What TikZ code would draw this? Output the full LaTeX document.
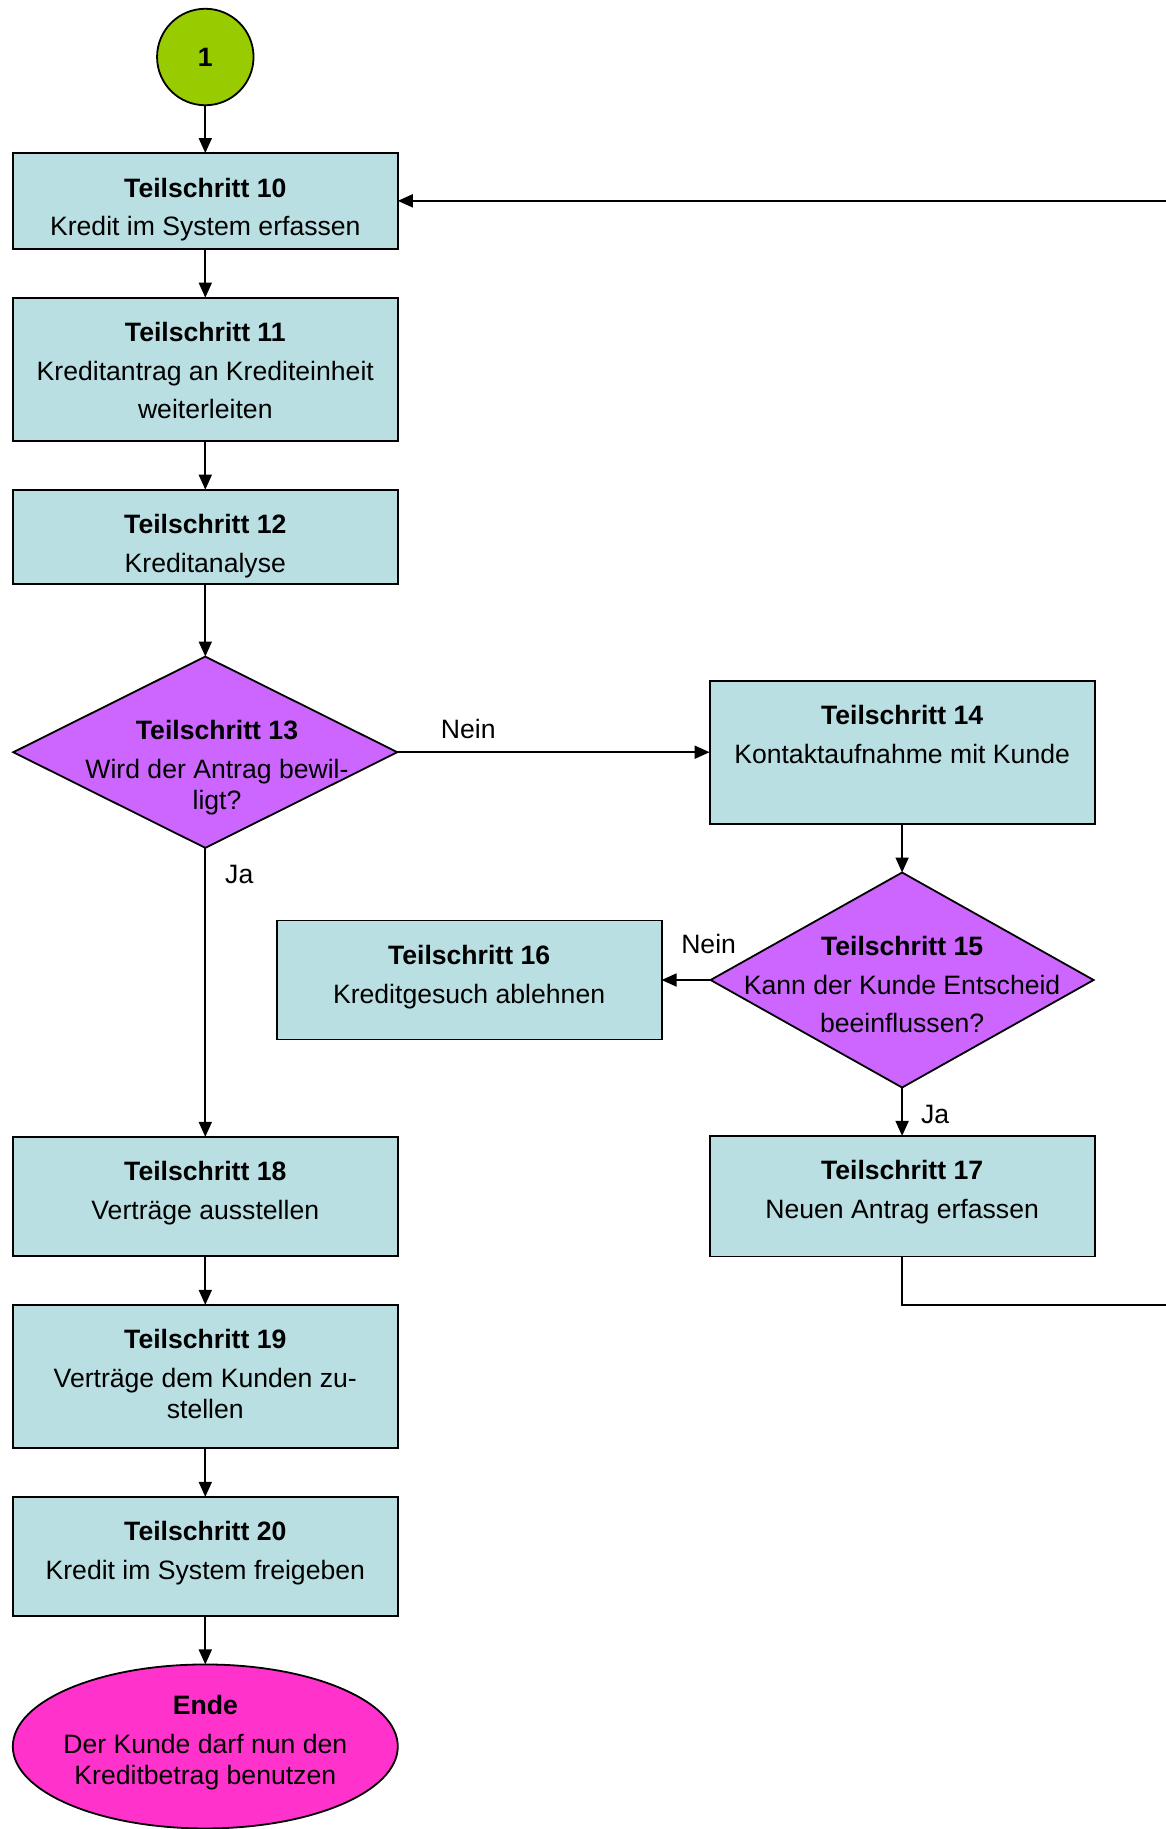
\documentclass[tikz,border=0pt]{standalone}
\usepackage{fontspec}
\setmainfont{Liberation Sans}
\usepackage{xcolor}
\usepackage{tikz}
\usetikzlibrary{shapes.geometric, arrows.meta, positioning}
\definecolor{stepcol}{RGB}{185,223,227}
\definecolor{askcol}{RGB}{204,102,255}
\definecolor{startcol}{RGB}{153,204,0}
\definecolor{endcol}{RGB}{255,51,204}
\newcommand{\chartfont}{\fontsize{26.6pt}{31.5pt}\selectfont}
\newcommand{\steptxt}[3][0pt]{\makebox[0pt]{\hspace*{#1}\parbox[t]{420pt}{\centering\textbf{#2}\\[7pt]#3}}}
\tikzstyle{proc} = [rectangle, minimum width=385pt, inner sep=0pt, outer sep=0pt, text height=0pt, draw=black, line width=1.8pt, fill=stepcol]
\tikzstyle{ask} = [diamond, minimum width=384pt, inner sep=0pt, outer sep=0pt, text height=0pt, draw=black, line width=1.8pt, fill=askcol]
\tikzstyle{start} = [circle, minimum size=96.5pt, inner sep=0pt, outer sep=0pt, draw=black, line width=1.8pt, fill=startcol, font=\chartfont\bfseries]
\tikzstyle{stop} = [ellipse, minimum width=385pt, minimum height=164pt, inner sep=0pt, outer sep=0pt, text height=0pt, text depth=63pt, draw=black, line width=1.8pt, fill=endcol]
\tikzstyle{arr} = [-{Triangle[length=15pt, width=13pt]}, line width=1.8pt]
\tikzstyle{lbl} = [inner sep=0pt]

\begin{document}
\begin{tikzpicture}[node distance=49pt, font=\chartfont]
  \useasboundingbox (0,0) rectangle (1165pt,-1829pt);
  % Left column (main path)
  \node[start] (s1) at (205.3pt,-57pt) {1};
  \node[proc, minimum height=95.6pt, text depth=7.6pt, below=47.8pt of s1] (t10) {\steptxt{Teilschritt 10}{Kredit im System erfassen}};
  \node[proc, minimum height=143pt, text depth=55pt, below=of t10] (t11) {\steptxt{Teilschritt 11}{Kreditantrag an Krediteinheit\\[7pt]weiterleiten}};
  \node[proc, minimum height=94.5pt, text depth=6.5pt, below=of t11] (t12) {\steptxt{Teilschritt 12}{Kreditanalyse}};
  \node[ask, minimum height=191.3pt, text depth=25.3pt, below=72.4pt of t12] (t13) {\steptxt[23.4pt]{Teilschritt 13}{Wird der Antrag bewil-\\ligt?}};
  % Right column (Nein branch)
  \node[proc, minimum height=143pt, text depth=55pt, right=312.3pt of t13] (t14) {\steptxt{Teilschritt 14}{Kontaktaufnahme mit Kunde}};
  \node[ask, minimum width=383pt, minimum height=215pt, text depth=49pt, below=48.8pt of t14] (t15) {\steptxt{Teilschritt 15}{Kann der Kunde Entscheid\\[7pt]beeinflussen?}};
  \node[proc, minimum height=119pt, text depth=31pt, left=of t15] (t16) {\steptxt{Teilschritt 16}{Kreditgesuch ablehnen}};
  \node[proc, minimum height=120.6pt, text depth=32.6pt, below=48.4pt of t15] (t17) {\steptxt{Teilschritt 17}{Neuen Antrag erfassen}};
  % Ja branch down to the end
  \node[proc, minimum height=119pt, text depth=31pt, below=289pt of t13] (t18) {\steptxt{Teilschritt 18}{Verträge ausstellen}};
  \node[proc, minimum height=143pt, text depth=55pt, below=of t18] (t19) {\steptxt{Teilschritt 19}{Verträge dem Kunden zu-\\stellen}};
  \node[proc, minimum height=119pt, text depth=31pt, below=of t19] (t20) {\steptxt{Teilschritt 20}{Kredit im System freigeben}};
  \node[stop, below=48.6pt of t20] (ende) {\steptxt{Ende}{Der Kunde darf nun den\\Kreditbetrag benutzen}};
  % Loop back (runs off the right edge)
  \coordinate (r1) at (1170pt,-1305pt);
  \coordinate (r2) at (r1 |- t10);
  \draw[arr] (s1) -- (t10);
  \draw[arr] (t10) -- (t11);
  \draw[arr] (t11) -- (t12);
  \draw[arr] (t12) -- (t13);
  \draw[arr] (t13) -- node[lbl, pos=0.227, above=13pt] {Nein} (t14);
  \draw[arr] (t13) -- node[lbl, pos=0.092, right=19pt] {Ja} (t18);
  \draw[arr] (t14) -- (t15);
  \draw[arr] (t15) -- node[lbl, pos=0.04, above=25pt] {Nein} (t16);
  \draw[arr] (t15) -- node[lbl, pos=0.55, right=18pt] {Ja} (t17);
  \draw[arr] (t18) -- (t19);
  \draw[arr] (t19) -- (t20);
  \draw[arr] (t20) -- (ende);
  \draw[line width=1.8pt] (t17) |- (r1);
  \draw[arr] (r2) -- (t10);
\end{tikzpicture}
\end{document}
